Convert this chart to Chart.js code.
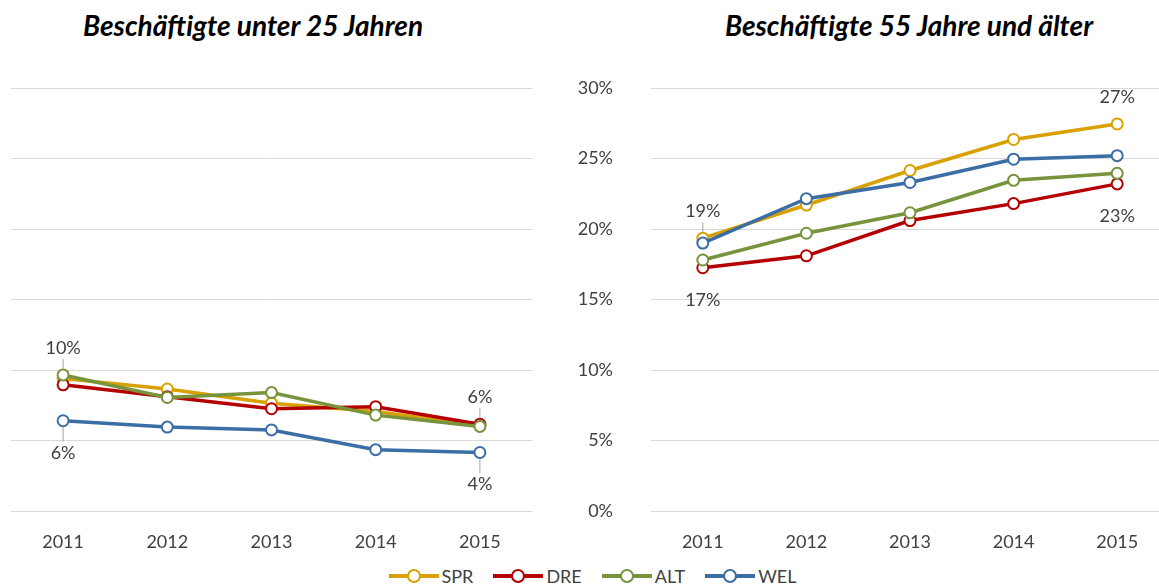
<!DOCTYPE html>
<html>
<head>
<meta charset="utf-8">
<script src="https://cdn.jsdelivr.net/npm/chart.js@4"></script>
<style>
  html,body{margin:0;padding:0;background:#fff;overflow:hidden;width:1159px;height:586px;font-family:Lato,"Open Sans",sans-serif}
  .title{position:absolute;top:8px;font:italic 700 28px Lato,sans-serif;color:#000;transform:translateX(-50%);white-space:nowrap}
  #c1{position:absolute;left:0;top:0}
  #c2{position:absolute;left:540px;top:0}
  #legend{position:absolute;top:566px;left:23px;width:1159px;height:20px;display:flex;justify-content:center;align-items:center;font:18px Lato,sans-serif;color:#404040}
  .item{display:flex;align-items:center;margin:0 20px 0 0}
  .item span.mk{position:relative;display:inline-block;width:50px;height:3.5px;margin-right:3px}
  .item span.mk i{position:absolute;left:18px;top:-5px;width:10px;height:10px;border-radius:50%;background:#fff;border:2px solid}
</style>
</head>
<body>
<div class="title" style="left:253px">Beschäftigte unter 25 Jahren</div>
<div class="title" style="left:909px">Beschäftigte 55 Jahre und älter</div>
<canvas id="c1" width="532" height="560"></canvas>
<canvas id="c2" width="629" height="560"></canvas>
<div id="legend"></div>
<script>
const years = ['2011','2012','2013','2014','2015'];
const seriesNames = ['SPR','DRE','ALT','WEL'];
const colors = ['#d8a100','#b40000','#77933c','#3b6ea5'];

// Beschäftigte unter 25 Jahren (%)
const young_SPR = [9.4, 8.65, 7.65, 7.05, 6.05];
const young_DRE = [8.95, 8.1, 7.25, 7.4, 6.15];
const young_ALT = [9.65, 8.05, 8.4, 6.8, 6.0];
const young_WEL = [6.4, 5.95, 5.75, 4.35, 4.15];

// Beschäftigte 55 Jahre und älter (%)
const old_SPR = [19.35, 21.7, 24.15, 26.35, 27.45];
const old_DRE = [17.25, 18.1, 20.6, 21.8, 23.2];
const old_ALT = [17.8, 19.7, 21.15, 23.45, 23.95];
const old_WEL = [19.0, 22.15, 23.3, 24.95, 25.2];

const yTicks = [0,5,10,15,20,25,30];

// data labels: [series index, point index, text, above?, leader line?]
const youngLabels = [[2,0,'10%',true,true],[3,0,'6%',false,true],[1,4,'6%',true,true],[3,4,'4%',false,true]];
const oldLabels = [[0,0,'19%',true,true],[1,0,'17%',false,false],[0,4,'27%',true,false],[1,4,'23%',false,false]];

function makeDatasets(arrs){
  return arrs.map((d,k)=>({
    label:seriesNames[k], data:d, borderColor:colors[k], backgroundColor:'#fff',
    borderWidth:3.5, pointRadius:5.5, pointBorderWidth:2, pointBackgroundColor:'#fff',
    pointBorderColor:colors[k], tension:0, order:3-k
  }));
}

const labelPlugin = {
  id:'dlabels',
  afterDatasetsDraw(chart,args,opts){
    const ctx=chart.ctx;
    ctx.save();
    ctx.font='18px Lato, sans-serif';
    ctx.fillStyle='#404040';
    ctx.textAlign='center';ctx.textBaseline='middle';
    opts.items.forEach(([s,i,txt,above,leader])=>{
      const idx=chart.data.datasets.findIndex(d=>d.label===seriesNames[s]);
      const p=chart.getDatasetMeta(idx).data[i];
      const ly=above?p.y-27:p.y+32;
      if(leader){
        ctx.strokeStyle='#a6a6a6';ctx.lineWidth=1;ctx.beginPath();
        if(above){ctx.moveTo(p.x,ly+11);ctx.lineTo(p.x,p.y-6);}
        else{ctx.moveTo(p.x,p.y+6);ctx.lineTo(p.x,ly-11);}
        ctx.stroke();
      }
      ctx.fillText(txt,p.x,ly);
    });
    ctx.restore();
  }
};

function makeChart(id,arrs,labels,showY){
  return new Chart(document.getElementById(id),{
    type:'line',
    data:{labels:years,datasets:makeDatasets(arrs)},
    plugins:[labelPlugin],
    options:{
      responsive:false,animation:false,
      layout:{autoPadding:false,padding:{left:showY?0:11,top:88,right:0,bottom:0}},
      plugins:{legend:{display:false},tooltip:{enabled:false},dlabels:{items:labels}},
      scales:{
        x:{offset:true,grid:{display:false,drawTicks:false},border:{display:false},
           afterFit:s=>{s.height=49},
           ticks:{padding:20,color:'#404040',font:{family:'Lato',size:18}}},
        y:{min:0,max:30,border:{display:false},
           afterBuildTicks:s=>{s.ticks=yTicks.map(v=>({value:v}))},
           afterFit:s=>{s.width=showY?111:0},
           grid:{color:'#d9d9d9',lineWidth:1,drawTicks:false},
           ticks:{display:showY,padding:38,color:'#404040',font:{family:'Lato',size:18},callback:v=>v+'%'}}
      }
    }
  });
}

makeChart('c1',[young_SPR,young_DRE,young_ALT,young_WEL],youngLabels,false);
makeChart('c2',[old_SPR,old_DRE,old_ALT,old_WEL],oldLabels,true);

const lg=document.getElementById('legend');
seriesNames.forEach((n,k)=>{
  lg.innerHTML+=`<span class="item"><span class="mk" style="background:${colors[k]}"><i style="border-color:${colors[k]}"></i></span>${n}</span>`;
});
</script>
</body>
</html>
